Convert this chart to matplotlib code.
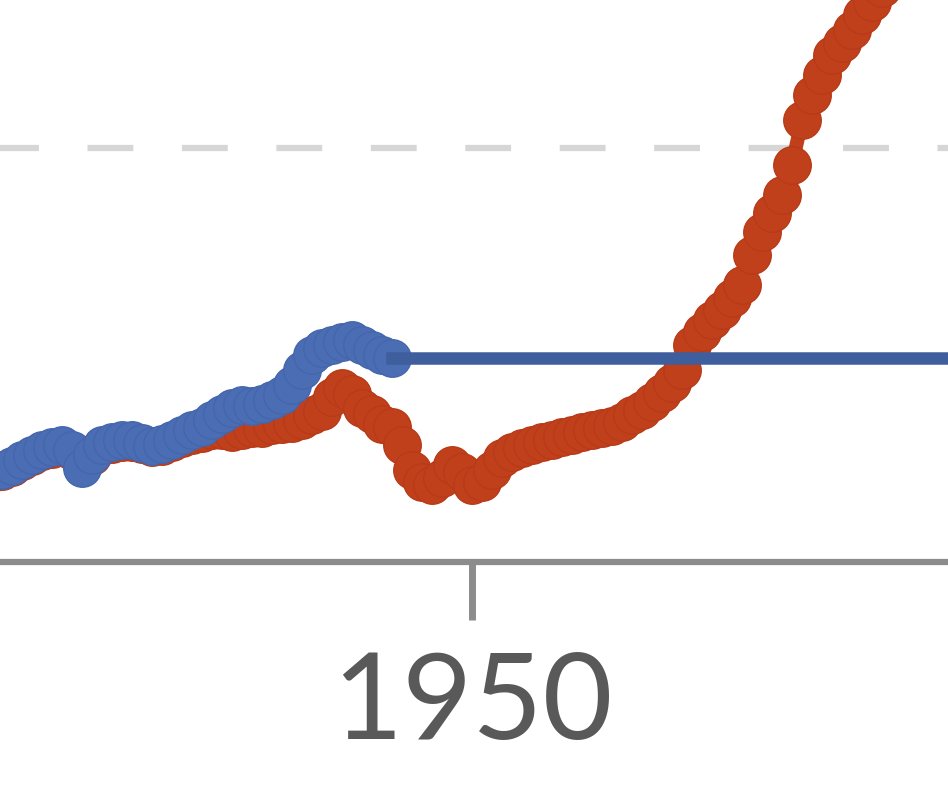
import numpy as np
import matplotlib
matplotlib.use("Agg")
import matplotlib.pyplot as plt

plt.rcParams['font.family'] = ['Lato', 'DejaVu Sans']
plt.rcParams['lines.scale_dashes'] = False

# measured series (blue, with markers up to 1942)
blue_years = list(range(1902, 1943))
blue_vals = [0.217, 0.222, 0.232, 0.246, 0.258, 0.271, 0.278, 0.283, 0.271, 0.227,
             0.258, 0.283, 0.290, 0.295, 0.295, 0.287, 0.280, 0.285, 0.295, 0.307,
             0.319, 0.326, 0.343, 0.357, 0.372, 0.379, 0.377, 0.382, 0.391, 0.403,
             0.428, 0.464, 0.500, 0.517, 0.524, 0.531, 0.536, 0.524, 0.512, 0.500,
             0.493]

# flat continuation of the blue series
flat_years = [1942, 2000]
flat_vals = [0.493, 0.493]

# red series
red_years = list(range(1902, 1993))
red_vals = [0.214, 0.219, 0.229, 0.243, 0.255, 0.267, 0.274, 0.279, 0.268, 0.240,
            0.255, 0.279, 0.286, 0.291, 0.291, 0.284, 0.277, 0.281, 0.290, 0.300,
            0.306, 0.312, 0.318, 0.319, 0.314, 0.319, 0.324, 0.324, 0.331, 0.333,
            0.336, 0.343, 0.355, 0.365, 0.398, 0.420, 0.405, 0.372, 0.358, 0.333,
            0.326, 0.283, 0.222, 0.193, 0.186, 0.203, 0.234, 0.217, 0.186, 0.193,
            0.222, 0.251, 0.266, 0.275, 0.283, 0.290, 0.295, 0.302, 0.307, 0.314,
            0.319, 0.324, 0.329, 0.338, 0.355, 0.367, 0.386, 0.408, 0.432, 0.464,
            0.524, 0.556, 0.585, 0.609, 0.638, 0.669, 0.742, 0.797, 0.843, 0.886,
            0.959, 1.068, 1.128, 1.176, 1.225, 1.254, 1.285, 1.321, 1.353, 1.386,
            1.430]

grid_level = 1.0
xticks = [1950]

fig = plt.figure(figsize=(9.48, 8.06), dpi=100)
ax = fig.add_axes([0, 244/806, 1, 562/806])

ax.plot(red_years, red_vals, color='#C1401C', lw=10, marker='o', ms=27,
        mec='#B83A18', mew=1, solid_capstyle='round', zorder=2)
ax.plot(blue_years, blue_vals, color='#4A6DB4', lw=10, marker='o', ms=27,
        mec='#4566AC', mew=1, solid_capstyle='round', zorder=3)
ax.plot(flat_years, flat_vals, color='#3F5E9E', lw=9, zorder=4)

ax.axhline(grid_level, color='#d6d6d6', lw=4.5, linestyle=(5, (33, 35)), zorder=1)

ax.set_xlim(1902.8, 1997.6)
ax.set_ylim(0, 562/414)

for s in ['top', 'left', 'right']:
    ax.spines[s].set_visible(False)
ax.spines['bottom'].set_color('#8c8c8c')
ax.spines['bottom'].set_linewidth(4.5)

ax.set_xticks(xticks)
ax.set_xticklabels([str(t) for t in xticks])
ax.set_yticks([])
ax.tick_params(axis='x', length=42, width=5, color='#8c8c8c', pad=22,
               labelsize=87, labelcolor='#595959')

fig.savefig('out.png', dpi=100)
